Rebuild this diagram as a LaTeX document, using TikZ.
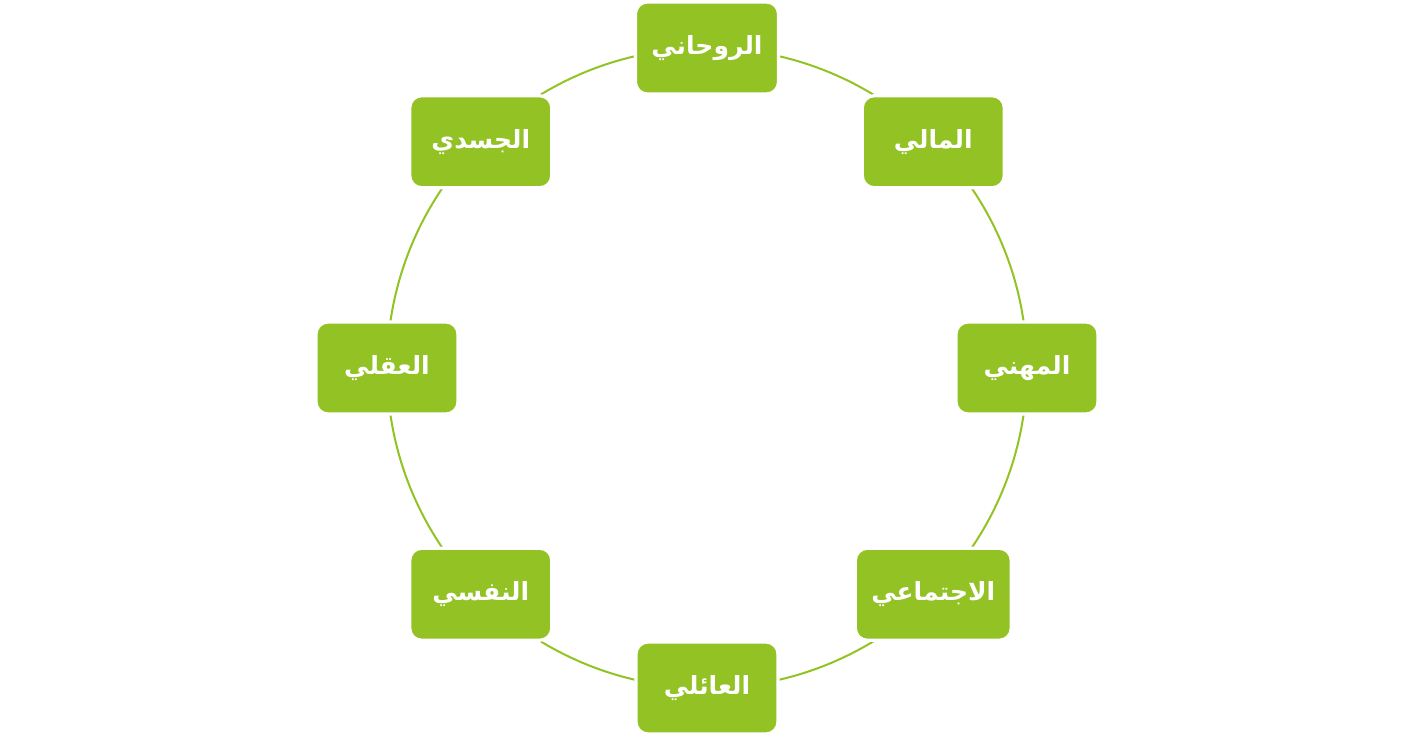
\documentclass[tikz,border=0pt]{standalone}
\usepackage{fontspec}
\newfontfamily\arabicfont[Script=Arabic]{DejaVu Sans}
\TeXXeTstate=1
\usetikzlibrary{backgrounds,calc}
\definecolor{lifegreen}{RGB}{147,194,37}

\begin{document}
\begin{tikzpicture}[x=0.5pt,y=0.5pt]
  \useasboundingbox (0,0) rectangle (1412,738);
  \tikzset{area/.style={fill=lifegreen,draw=white,line width=1.6pt,rounded corners=6pt,
      minimum width=71pt,minimum height=46pt,inner xsep=8pt,text=white,
      font=\arabicfont\bfseries\fontsize{12.5}{15}\selectfont},
    ring/.style={draw=lifegreen,line width=1pt}}
  \coordinate (c) at (707,370);
  \foreach \a/\name/\txt in {90/spiritual/الروحاني,45/financial/المالي,0/career/المهني,
      -45/social/الاجتماعي,-90/family/العائلي,-135/psych/النفسي,180/mental/العقلي,135/physical/الجسدي} {
    \node[area] (\name) at ($(c)+(\a:320)$) {\beginR\txt\endR};
  }
  \begin{pgfonlayer}{background}
    \foreach \from/\to/\a in {spiritual/financial/90,financial/career/45,career/social/0,
        social/family/-45,family/psych/-90,psych/mental/-135,mental/physical/180,physical/spiritual/135} {
      \draw[ring] (\from.center) arc[start angle=\a,end angle=\a-45,radius=320];
    }
  \end{pgfonlayer}
\end{tikzpicture}
\end{document}
